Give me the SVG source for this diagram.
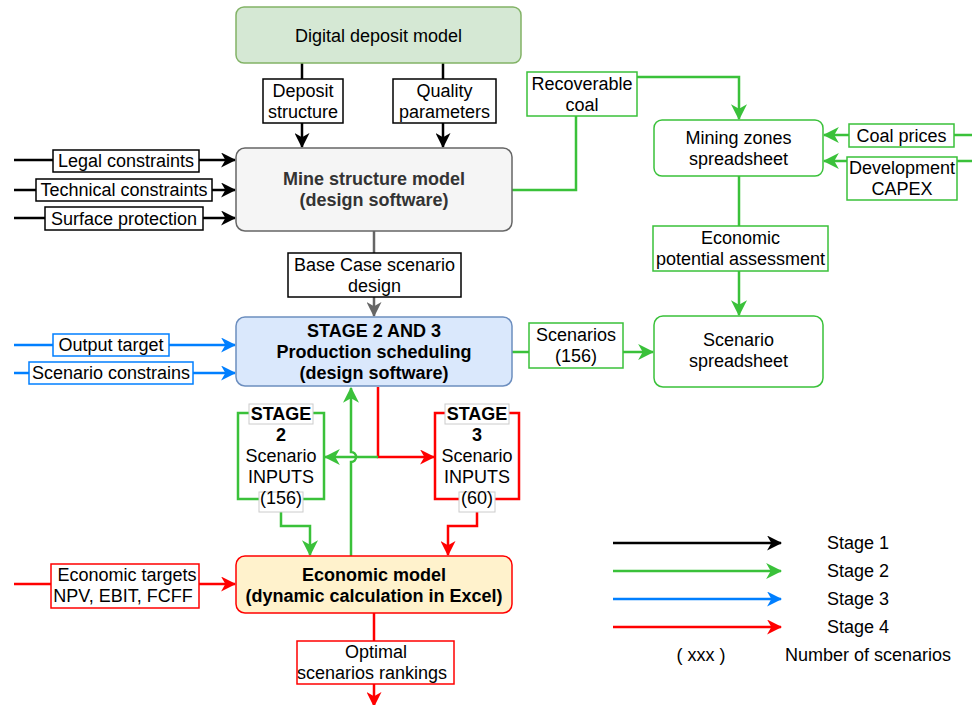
<svg xmlns="http://www.w3.org/2000/svg" width="972" height="705" viewBox="0 0 972 705">
<style>
text{font-family:"Liberation Sans",Arial,sans-serif;font-size:18px;fill:#000;text-anchor:middle}
.b{font-weight:bold}
.gray{fill:#333}
.st{text-anchor:start}
.lbk{fill:#fff;stroke:#000;stroke-width:1.5}
.lgn{fill:#fff;stroke:#3AC13A;stroke-width:1.5}
.lrd{fill:#fff;stroke:#FF0000;stroke-width:1.5}
.lbl{fill:#fff;stroke:#007FFF;stroke-width:1.5}
.lbg{fill:#fff;stroke:#ccc;stroke-width:1}
.ck{fill:none;stroke:#000;stroke-width:2.5}
.cg{fill:none;stroke:#3AC13A;stroke-width:2.5}
.cb{fill:none;stroke:#007FFF;stroke-width:2.5}
.cr{fill:none;stroke:#FF0000;stroke-width:2.5}
.cy{fill:none;stroke:#666;stroke-width:2.5}
</style>
<defs>
<marker id="ak" viewBox="0 0 14 14" refX="13" refY="7" markerWidth="15" markerHeight="15" markerUnits="userSpaceOnUse" orient="auto"><path d="M0,0 L14,7 L0,14 L4,7 z" fill="#000"/></marker>
<marker id="ag" viewBox="0 0 14 14" refX="13" refY="7" markerWidth="16" markerHeight="16" markerUnits="userSpaceOnUse" orient="auto"><path d="M0,0 L14,7 L0,14 L4,7 z" fill="#3AC13A"/></marker>
<marker id="ab" viewBox="0 0 14 14" refX="13" refY="7" markerWidth="15" markerHeight="15" markerUnits="userSpaceOnUse" orient="auto"><path d="M0,0 L14,7 L0,14 L4,7 z" fill="#007FFF"/></marker>
<marker id="ar" viewBox="0 0 14 14" refX="13" refY="7" markerWidth="15" markerHeight="15" markerUnits="userSpaceOnUse" orient="auto"><path d="M0,0 L14,7 L0,14 L4,7 z" fill="#FF0000"/></marker>
<marker id="ay" viewBox="0 0 14 14" refX="13" refY="7" markerWidth="15" markerHeight="15" markerUnits="userSpaceOnUse" orient="auto"><path d="M0,0 L14,7 L0,14 L4,7 z" fill="#666"/></marker>
</defs>

<g id="connectors">
<path class="ck" d="M302,63 V147" marker-end="url(#ak)"/>
<path class="ck" d="M443,63 V147" marker-end="url(#ak)"/>
<path class="ck" d="M14,160 H235" marker-end="url(#ak)"/>
<path class="ck" d="M14,190 H235" marker-end="url(#ak)"/>
<path class="ck" d="M14,218 H235" marker-end="url(#ak)"/>
<path class="cg" d="M512,190 H576 V116"/>
<path class="cg" d="M637,77 H739 V119" marker-end="url(#ag)"/>
<path class="cg" d="M972,135 H824" marker-end="url(#ag)"/>
<path class="cg" d="M972,161 H824" marker-end="url(#ag)"/>
<path class="cg" d="M739,176 V315" marker-end="url(#ag)"/>
<path class="cy" d="M374,231 V316" marker-end="url(#ay)"/>
<path class="cb" d="M14,345 H235" marker-end="url(#ab)"/>
<path class="cb" d="M14,373 H235" marker-end="url(#ab)"/>
<path class="cg" d="M512,352 H653" marker-end="url(#ag)"/>
<path class="cr" d="M378,387 V457 H434" marker-end="url(#ar)"/>
<path class="cg" d="M378,457 H325" marker-end="url(#ag)"/>
<path class="cg" d="M351,556 V462 A5,5 0 0 0 351,452 V388" marker-end="url(#ag)"/>
<path class="cg" d="M281,499 V526 H310 V555" marker-end="url(#ag)"/>
<path class="cr" d="M477,499 V526 H448 V555" marker-end="url(#ar)"/>
<path class="cr" d="M14,584 H235" marker-end="url(#ar)"/>
<path class="cr" d="M374,613 V706" marker-end="url(#ar)"/>
</g>

<g id="digital-deposit-model">
<rect x="236" y="7" width="285" height="56" rx="8" fill="#d5e8d4" stroke="#82b366" stroke-width="1.5"/>
<text x="378.5" y="42">Digital deposit model</text>
</g>
<g id="deposit-structure">
<rect class="lbk" x="263" y="79" width="80" height="44"/>
<text x="303" y="96.5">Deposit</text><text x="303" y="117.5">structure</text>
</g>
<g id="quality-parameters">
<rect class="lbk" x="393" y="79" width="103" height="44"/>
<text x="444.5" y="96.5">Quality</text><text x="444.5" y="117.5">parameters</text>
</g>
<g id="mine-structure-model">
<rect x="236" y="148" width="276" height="83" rx="9" fill="#f5f5f5" stroke="#666" stroke-width="1.5"/>
<text class="b gray" x="374" y="185">Mine structure model</text>
<text class="b gray" x="374" y="206">(design software)</text>
</g>
<g id="legal-constraints">
<rect class="lbk" x="53" y="150" width="146" height="22"/>
<text x="126" y="167">Legal constraints</text>
</g>
<g id="technical-constraints">
<rect class="lbk" x="36" y="179" width="176" height="22"/>
<text x="124" y="196">Technical constraints</text>
</g>
<g id="surface-protection">
<rect class="lbk" x="45" y="207" width="158" height="23"/>
<text x="124" y="224.5">Surface protection</text>
</g>
<g id="recoverable-coal">
<rect class="lgn" x="527" y="72" width="110" height="44"/>
<text x="582" y="89.5">Recoverable</text><text x="582" y="110.5">coal</text>
</g>
<g id="mining-zones-spreadsheet">
<rect x="654" y="120" width="169" height="56" rx="8" fill="#fff" stroke="#3AC13A" stroke-width="1.5"/>
<text x="738.5" y="143.5">Mining zones</text><text x="738.5" y="164.5">spreadsheet</text>
</g>
<g id="coal-prices">
<rect class="lgn" x="849" y="124" width="105" height="23"/>
<text x="901.5" y="141.5">Coal prices</text>
</g>
<g id="development-capex">
<rect class="lgn" x="847" y="157" width="110" height="43"/>
<text x="902" y="174">Development</text><text x="902" y="195">CAPEX</text>
</g>
<g id="economic-potential-assessment">
<rect class="lgn" x="653" y="226" width="175" height="45"/>
<text x="740.5" y="244">Economic</text><text x="740.5" y="265">potential assessment</text>
</g>
<g id="base-case-scenario-design">
<rect class="lbk" x="288" y="253" width="173" height="44"/>
<text x="374.5" y="270.5">Base Case scenario</text><text x="374.5" y="291.5">design</text>
</g>
<g id="production-scheduling">
<rect x="236" y="317" width="276" height="69" rx="9" fill="#dae8fc" stroke="#6c8ebf" stroke-width="1.5"/>
<text class="b" x="374" y="336.5">STAGE 2 AND 3</text>
<text class="b" x="374" y="357.5">Production scheduling</text>
<text class="b" x="374" y="378.5">(design software)</text>
</g>
<g id="output-target">
<rect class="lbl" x="53" y="334" width="116" height="22"/>
<text x="111" y="351">Output target</text>
</g>
<g id="scenario-constrains">
<rect class="lbl" x="29" y="362" width="164" height="22"/>
<text x="111" y="379">Scenario constrains</text>
</g>
<g id="scenarios-156">
<rect class="lgn" x="529" y="323" width="94" height="45"/>
<text x="576" y="341">Scenarios</text><text x="576" y="362">(156)</text>
</g>
<g id="scenario-spreadsheet">
<rect x="654" y="316" width="169" height="71" rx="9" fill="#fff" stroke="#3AC13A" stroke-width="1.5"/>
<text x="738.5" y="346">Scenario</text><text x="738.5" y="367">spreadsheet</text>
</g>
<g id="stage2-inputs">
<rect x="238" y="413" width="86" height="86" fill="#fff" stroke="#3AC13A" stroke-width="2.5"/>
<rect class="lbg" x="249" y="404" width="64" height="20"/>
<rect class="lbg" x="259" y="492" width="44" height="20"/>
<text class="b" x="281" y="420">STAGE</text>
<text class="b" x="281" y="441">2</text>
<text x="281" y="462">Scenario</text>
<text x="281" y="483">INPUTS</text>
<text x="281" y="504">(156)</text>
</g>
<g id="stage3-inputs">
<rect x="435" y="413" width="84" height="86" fill="#fff" stroke="#FF0000" stroke-width="2.5"/>
<rect class="lbg" x="445" y="404" width="64" height="20"/>
<rect class="lbg" x="459" y="492" width="36" height="20"/>
<text class="b" x="477" y="420">STAGE</text>
<text class="b" x="477" y="441">3</text>
<text x="477" y="462">Scenario</text>
<text x="477" y="483">INPUTS</text>
<text x="477" y="504">(60)</text>
</g>
<g id="economic-model">
<rect x="236" y="556" width="276" height="57" rx="9" fill="#fff2cc" stroke="#FF0000" stroke-width="1.5"/>
<text class="b" x="374" y="581">Economic model</text>
<text class="b" x="374" y="602">(dynamic calculation in Excel)</text>
</g>
<g id="economic-targets">
<rect class="lrd" x="51" y="564" width="148" height="44"/>
<text x="127" y="581">Economic targets</text><text x="123" y="602">NPV, EBIT, FCFF</text>
</g>
<g id="optimal-rankings">
<rect class="lrd" x="297" y="641" width="157" height="43"/>
<text x="376" y="658">Optimal</text><text x="372" y="679">scenarios rankings</text>
</g>

<g id="legend">
<path class="ck" d="M613,543 H781" marker-end="url(#ak)"/>
<path class="cg" d="M613,571 H781" marker-end="url(#ag)"/>
<path class="cb" d="M613,599 H781" marker-end="url(#ab)"/>
<path class="cr" d="M613,627 H781" marker-end="url(#ar)"/>
<text class="st" x="827" y="549">Stage 1</text>
<text class="st" x="827" y="577">Stage 2</text>
<text class="st" x="827" y="605">Stage 3</text>
<text class="st" x="827" y="633">Stage 4</text>
<text x="701" y="661">( xxx )</text>
<text class="st" x="785" y="661">Number of scenarios</text>
</g>
</svg>
